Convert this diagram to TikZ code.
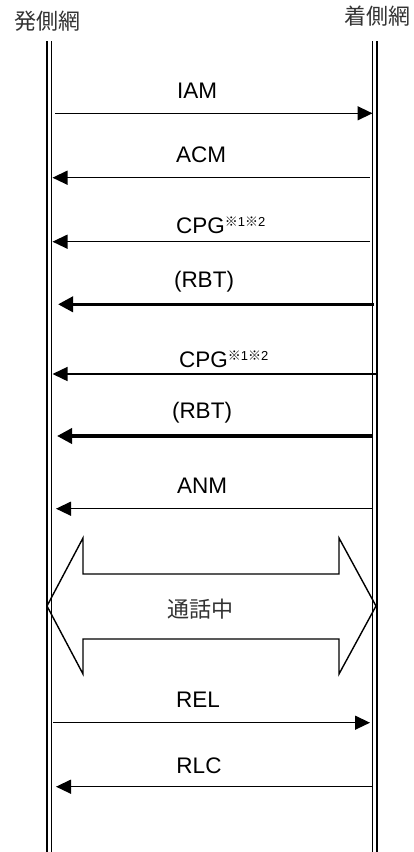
\documentclass[tikz,border=0pt]{standalone}
\usepackage{fontspec}
\setmainfont{Liberation Sans}
\newfontfamily\jpfont{Noto Sans CJK JP}
\usetikzlibrary{arrows.meta}
\definecolor{jpgray}{HTML}{333333}
\newcommand{\kome}{{\jpfont ※}}
\tikzset{
  life/.style={line width=1.4pt},
  msg/.style={line width=1.4pt,-{Triangle[length=15pt,width=14pt]}},
  tone/.style={line width=3.6pt,-{Triangle[length=15pt,width=15pt]}},
  lbl/.style={font=\fontsize{22.5}{24}\selectfont,inner sep=0pt},
  sup/.style={},
  hdr/.style={font=\jpfont\fontsize{22}{24}\selectfont,text=jpgray,inner sep=0pt},
  callbox/.style={line width=1.4pt,line join=miter}
}
\begin{document}
\begin{tikzpicture}[x=1pt,y=-1pt]
\useasboundingbox (0,0) rectangle (414,852);
% headers
\node[hdr] (hA) at (48,21) {発側網};
\node[hdr] (hB) at (377,16) {着側網};
% lifelines
\coordinate (A1t) at (47,41); \coordinate (A1b) at (47,852);
\coordinate (A2t) at (51.7,41); \coordinate (A2b) at (51.7,852);
\coordinate (B1t) at (372.5,41); \coordinate (B1b) at (372.5,852);
\coordinate (B2t) at (377,41); \coordinate (B2b) at (377,852);
\draw[life] (A1t) -- (A1b);
\draw[life] (A2t) -- (A2b);
\draw[life] (B1t) -- (B1b);
\draw[life] (B2t) -- (B2b);
% IAM
\coordinate (iamS) at (55,113.3); \coordinate (iamE) at (372.5,113.3);
\draw[msg] (iamS) -- (iamE);
\node[lbl] (iam) at (197,91) {IAM};
% ACM
\coordinate (acmS) at (370,177.7); \coordinate (acmE) at (52.5,177.7);
\draw[msg] (acmS) -- (acmE);
\node[lbl] (acm) at (201,155) {ACM};
% CPG 1
\coordinate (cpg1S) at (370,241.7); \coordinate (cpg1E) at (52.5,241.7);
\draw[msg] (cpg1S) -- (cpg1E);
\node[lbl,anchor=base west] (cpg1) at (176,233.5) {CPG\raisebox{7pt}{\fontsize{13}{13}\selectfont\kome 1\kome 2}};
% RBT 1
\coordinate (rbt1S) at (374,304.3); \coordinate (rbt1E) at (58,304.3);
\draw[tone] (rbt1S) -- (rbt1E);
\node[lbl] (rbt1) at (204,282) {(RBT)};
% CPG 2
\coordinate (cpg2S) at (377,374); \coordinate (cpg2E) at (52.5,374);
\draw[msg] (cpg2S) -- (cpg2E);
\node[lbl,anchor=base west] (cpg2) at (179,367.5) {CPG\raisebox{7pt}{\fontsize{13}{13}\selectfont\kome 1\kome 2}};
% RBT 2
\coordinate (rbt2S) at (373,436); \coordinate (rbt2E) at (57,436);
\draw[tone] (rbt2S) -- (rbt2E);
\node[lbl] (rbt2) at (202,413) {(RBT)};
% ANM
\coordinate (anmS) at (373,508.7); \coordinate (anmE) at (56,508.7);
\draw[msg] (anmS) -- (anmE);
\node[lbl] (anm) at (202,485.5) {ANM};
% call in progress
\draw[callbox] (47,606) -- (83,538) -- (83,574) -- (339,574) -- (339,538) -- (376,606)
  -- (339,674) -- (339,639) -- (83,639) -- (83,674) -- cycle;
\node[hdr] (call) at (200,609) {通話中};
% REL
\coordinate (relS) at (53,722.7); \coordinate (relE) at (370,722.7);
\draw[msg] (relS) -- (relE);
\node[lbl] (rel) at (198,699.5) {REL};
% RLC
\coordinate (rlcS) at (372,786.7); \coordinate (rlcE) at (56,786.7);
\draw[msg] (rlcS) -- (rlcE);
\node[lbl] (rlc) at (199,765.5) {RLC};
\end{tikzpicture}
\end{document}
